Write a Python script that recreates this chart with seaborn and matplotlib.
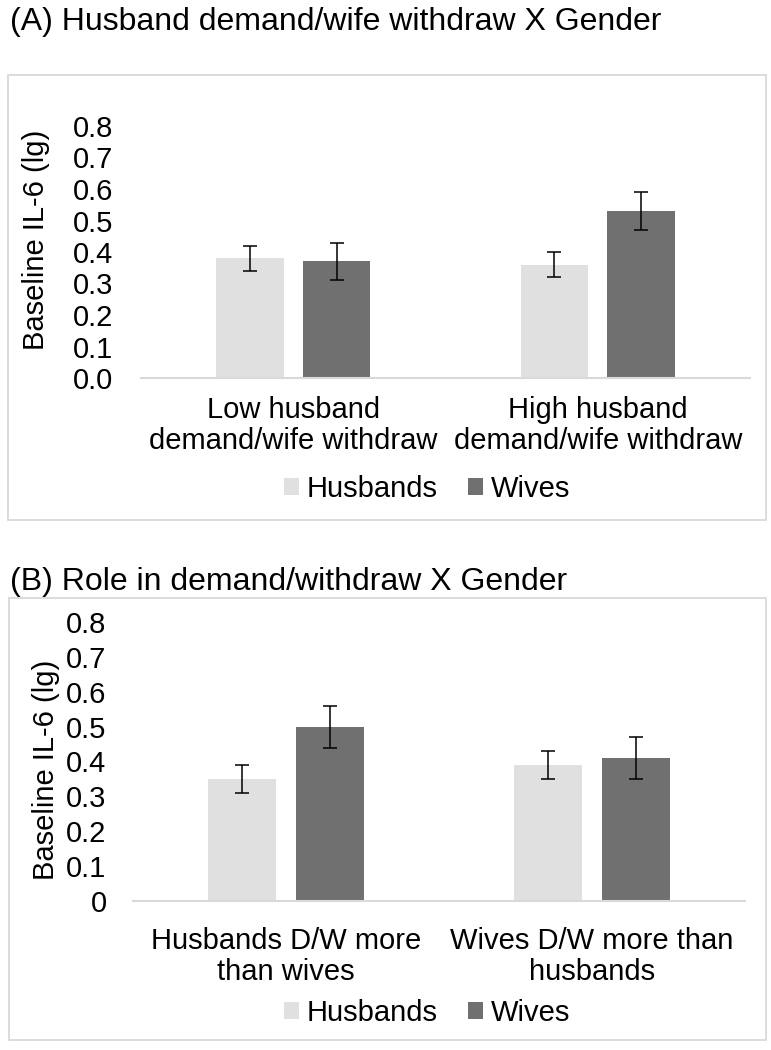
import numpy as np
import pandas as pd
import matplotlib
matplotlib.use("Agg")
import matplotlib.pyplot as plt
from matplotlib.patches import Rectangle
from matplotlib.container import BarContainer
import seaborn as sns

# values (mean and +/- error)
GENDERS = ["Husbands", "Wives"]

GROUPS_A = ["Low husband\ndemand/wife withdraw", "High husband\ndemand/wife withdraw"]
HUSBANDS_A = [0.38, 0.36]
WIVES_A = [0.37, 0.53]
HUSBANDS_A_ERR = [0.04, 0.04]
WIVES_A_ERR = [0.06, 0.06]

GROUPS_B = ["Husbands D/W more\nthan wives", "Wives D/W more than\nhusbands"]
HUSBANDS_B = [0.35, 0.39]
WIVES_B = [0.50, 0.41]
HUSBANDS_B_ERR = [0.04, 0.04]
WIVES_B_ERR = [0.06, 0.06]

YTICKS = [0.0, 0.1, 0.2, 0.3, 0.4, 0.5, 0.6, 0.7, 0.8]
YTICK_LABELS_A = ["0.0", "0.1", "0.2", "0.3", "0.4", "0.5", "0.6", "0.7", "0.8"]
YTICK_LABELS_B = ["0", "0.1", "0.2", "0.3", "0.4", "0.5", "0.6", "0.7", "0.8"]

PALETTE = {"Husbands": "#E0E0E0", "Wives": "#707070"}
FRAME_GRAY = "#D9D9D9"
FONT_SIZE = 21
TITLE_SIZE = 23

W, H = 771, 1050

sns.set_style("white")
plt.rcParams["font.family"] = ["Liberation Sans", "DejaVu Sans"]
plt.rcParams["text.color"] = "black"
plt.rcParams["axes.labelcolor"] = "black"
plt.rcParams["xtick.color"] = "black"
plt.rcParams["ytick.color"] = "black"


def px_x(x):
    return x / W


def px_y(y):
    return 1 - y / H


def draw_panel(fig, rect_px, groups, husbands, wives, h_err, w_err,
               ytick_labels, title, title_y, frame_px, ylabel_xy, xpad, ypad, legend_y):
    left, top, right, bottom = rect_px
    ax = fig.add_axes([px_x(left), px_y(bottom), (right - left) / W, (bottom - top) / H])

    df = pd.DataFrame({
        "group": groups * 2,
        "gender": [GENDERS[0]] * len(groups) + [GENDERS[1]] * len(groups),
        "value": list(husbands) + list(wives),
    })
    sns.barplot(
        data=df, x="group", y="value", hue="gender", hue_order=GENDERS,
        palette=PALETTE, width=0.57, gap=0.22, errorbar=None,
        linewidth=0, ax=ax
    )

    errs = [h_err, w_err]
    vals = [husbands, wives]
    bar_sets = [c for c in ax.containers if isinstance(c, BarContainer)]
    for k, container in enumerate(bar_sets):
        xs = [bar.get_x() + bar.get_width() / 2 for bar in container]
        ax.errorbar(xs, vals[k], yerr=errs[k], fmt="none", ecolor="black",
                    elinewidth=1.1, capsize=5, capthick=1.1, zorder=5)

    ax.set_ylim(0, 0.8)
    ax.set_xlim(-0.5, 1.5)
    ax.set_yticks(YTICKS, labels=ytick_labels)
    ax.set_xticks(range(len(groups)), labels=groups, linespacing=1.12)
    ax.tick_params(axis="y", length=0, pad=ypad, labelsize=FONT_SIZE, labelcolor="black")
    ax.tick_params(axis="x", length=0, pad=xpad, labelsize=FONT_SIZE, labelcolor="black")
    ax.set_xlabel("")
    ax.set_ylabel("Baseline IL-6 (lg)", fontsize=FONT_SIZE, color="black")
    ax.yaxis.set_label_coords(*ylabel_xy)
    for side in ["top", "right", "left"]:
        ax.spines[side].set_visible(False)
    ax.spines["bottom"].set_color(FRAME_GRAY)
    ax.spines["bottom"].set_linewidth(1.5)
    ax.patch.set_alpha(0)

    handles, labels = ax.get_legend_handles_labels()
    ax.get_legend().remove()
    leg = ax.legend(handles, labels, loc="center", ncol=2, frameon=False,
                    bbox_to_anchor=(px_x(427), px_y(legend_y)), bbox_transform=fig.transFigure,
                    fontsize=FONT_SIZE, handlelength=0.52, handleheight=0.52,
                    handletextpad=0.25, columnspacing=1.05, borderpad=0)
    for txt in leg.get_texts():
        txt.set_color("black")

    fig.text(px_x(10), px_y(title_y), title, fontsize=TITLE_SIZE, va="baseline", ha="left")

    fx0, fy0, fx1, fy1 = frame_px
    fig.add_artist(Rectangle((px_x(fx0), px_y(fy1)), (fx1 - fx0) / W, (fy1 - fy0) / H,
                             transform=fig.transFigure, fill=False,
                             edgecolor=FRAME_GRAY, linewidth=1.3, zorder=0))
    return ax


fig = plt.figure(figsize=(W / 100, H / 100), dpi=100)

draw_panel(fig, (141, 126, 750, 378), GROUPS_A, HUSBANDS_A, WIVES_A,
           HUSBANDS_A_ERR, WIVES_A_ERR, YTICK_LABELS_A,
           "(A) Husband demand/wife withdraw X Gender", 30,
           (8, 75, 766, 520), (-0.149, 0.548), 13, 20, 489)

draw_panel(fig, (133, 622, 745, 901), GROUPS_B, HUSBANDS_B, WIVES_B,
           HUSBANDS_B_ERR, WIVES_B_ERR, YTICK_LABELS_B,
           "(B) Role in demand/withdraw X Gender", 590,
           (9, 598, 766, 1040), (-0.119, 0.47), 19, 19, 1013)

fig.savefig("out.png", dpi=100)
